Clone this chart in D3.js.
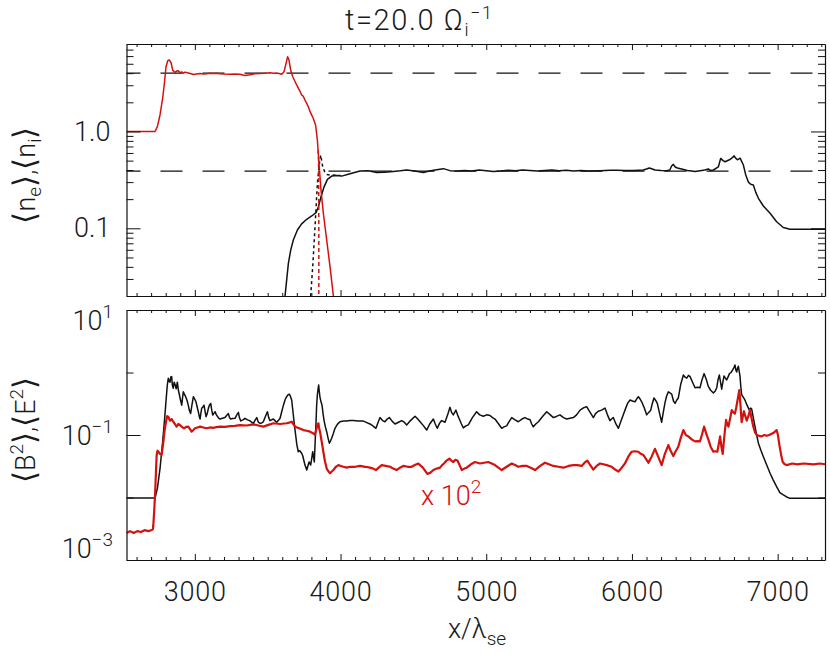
<!DOCTYPE html>
<html>
<head>
<meta charset="utf-8">
<script src="https://cdn.jsdelivr.net/npm/d3@7"></script>
<style>
  body { margin: 0; background: #fff; }
  text { font-family: Roboto, "DejaVu Sans", sans-serif; font-weight: 300; fill: #1a1a1a; }
</style>
</head>
<body>
<script>
// ---- data ----
var xMajor = [3000, 4000, 5000, 6000, 7000];
var refLevels = [4.0, 0.39];   // dashed lines, top panel

// top panel: red solid
var ionDensity = [[2531,1.0],[2600,1.0],[2700,1.0],[2727,1.0],[2743,1.12],[2761,1.48],[2779,2.2],[2791,3.13],[2802,4.66],[2814,5.38],[2825,5.47],[2837,5.12],[2848,4.3],[2864,4.07],[2875,4.2],[2887,4.24],[2898,4.05],[2910,4.12],[2922,4.0],[2933,4.1],[2955,4.02],[2975,3.95],[2990,3.88],[3010,3.92],[3036,3.97],[3060,3.93],[3081,3.95],[3105,3.99],[3127,3.97],[3150,3.98],[3173,3.95],[3200,3.92],[3241,3.9],[3275,3.93],[3310,3.9],[3344,3.79],[3379,3.86],[3410,3.95],[3447,3.97],[3480,3.99],[3516,4.04],[3540,4.0],[3562,4.02],[3585,3.95],[3596,3.9],[3612,4.13],[3626,5.05],[3637,5.92],[3646,5.47],[3658,4.3],[3672,3.67],[3694,3.13],[3711,2.78],[3722,2.6],[3733,2.38],[3745,2.3],[3756,2.11],[3768,1.95],[3779,1.8],[3791,1.6],[3800,1.5],[3813,1.36],[3829,1.16],[3841,0.815],[3852,0.468],[3866,0.248],[3882,0.143],[3905,0.0757],[3928,0.040],[3951,0.02],[3960,0.015]];
// top panel: black solid
var electronDensity = [[3612,0.015],[3619,0.02],[3630,0.029],[3642,0.0435],[3658,0.0596],[3676,0.0757],[3704,0.096],[3733,0.111],[3768,0.124],[3802,0.134],[3832,0.145],[3848,0.167],[3866,0.212],[3887,0.268],[3910,0.32],[3939,0.346],[3974,0.35],[4008,0.346],[4065,0.366],[4134,0.39],[4191,0.393],[4248,0.376],[4300,0.38],[4362,0.385],[4410,0.392],[4454,0.40],[4510,0.39],[4568,0.376],[4610,0.39],[4648,0.40],[4706,0.413],[4751,0.394],[4800,0.39],[4850,0.395],[4900,0.39],[4950,0.40],[5000,0.392],[5050,0.385],[5100,0.39],[5150,0.397],[5200,0.392],[5250,0.40],[5300,0.395],[5350,0.39],[5400,0.395],[5450,0.40],[5500,0.392],[5550,0.398],[5600,0.39],[5650,0.395],[5700,0.39],[5781,0.393],[5850,0.397],[5895,0.397],[5950,0.395],[6010,0.396],[6078,0.40],[6100,0.41],[6119,0.42],[6140,0.41],[6158,0.40],[6200,0.395],[6238,0.393],[6260,0.40],[6272,0.44],[6284,0.457],[6297,0.43],[6312,0.42],[6341,0.41],[6380,0.395],[6410,0.39],[6433,0.385],[6479,0.395],[6500,0.40],[6524,0.41],[6540,0.395],[6559,0.40],[6593,0.43],[6609,0.527],[6625,0.50],[6639,0.487],[6669,0.51],[6685,0.53],[6701,0.56],[6712,0.53],[6724,0.51],[6742,0.53],[6765,0.45],[6780,0.36],[6799,0.30],[6815,0.285],[6833,0.28],[6850,0.235],[6868,0.204],[6902,0.17],[6948,0.143],[6993,0.117],[7039,0.102],[7085,0.098],[7200,0.098],[7325,0.098]];
// top panel: dotted curves
var electronDensityAlt = [[3793,0.015],[3795,0.02],[3809,0.040],[3825,0.104],[3841,0.29],[3855,0.468],[3864,0.57],[3878,0.43],[3892,0.38],[3905,0.36],[3930,0.355],[3951,0.355],[3997,0.352]];
var ionDensityAlt = [[3851,0.015],[3851,0.1],[3850,0.3],[3849,0.5],[3847,0.65]];

// bottom panel: black <B^2>
var magneticEnergy = [[2531,0.0098],[2727,0.0098],[2743,0.014],[2761,0.029],[2779,0.078],[2791,0.163],[2800,0.30],[2811,0.63],[2818,0.81],[2824,0.72],[2830,0.70],[2835,0.85],[2841,0.86],[2846,0.62],[2852,0.56],[2858,0.70],[2864,0.65],[2872,0.55],[2880,0.70],[2887,0.52],[2894,0.44],[2902,0.36],[2910,0.30],[2916,0.40],[2921,0.49],[2928,0.45],[2937,0.41],[2946,0.36],[2955,0.30],[2962,0.25],[2971,0.22],[2980,0.30],[2990,0.41],[2998,0.38],[3008,0.34],[3016,0.28],[3024,0.236],[3030,0.20],[3036,0.18],[3041,0.22],[3047,0.267],[3055,0.28],[3063,0.30],[3070,0.24],[3077,0.196],[3085,0.22],[3093,0.267],[3100,0.30],[3109,0.32],[3116,0.25],[3123,0.209],[3130,0.22],[3139,0.236],[3148,0.21],[3157,0.196],[3165,0.185],[3173,0.18],[3190,0.185],[3207,0.19],[3218,0.205],[3230,0.22],[3238,0.19],[3246,0.18],[3260,0.183],[3276,0.185],[3288,0.21],[3299,0.23],[3306,0.19],[3315,0.168],[3330,0.175],[3344,0.185],[3362,0.175],[3379,0.168],[3390,0.16],[3402,0.154],[3412,0.17],[3425,0.19],[3436,0.16],[3447,0.154],[3458,0.155],[3470,0.163],[3485,0.2],[3498,0.236],[3507,0.19],[3516,0.17],[3527,0.175],[3539,0.18],[3550,0.17],[3562,0.16],[3573,0.17],[3585,0.185],[3597,0.24],[3608,0.30],[3620,0.37],[3630,0.41],[3640,0.44],[3649,0.45],[3657,0.41],[3665,0.36],[3670,0.28],[3676,0.209],[3684,0.14],[3692,0.10],[3700,0.07],[3710,0.054],[3720,0.056],[3733,0.051],[3740,0.047],[3745,0.042],[3756,0.033],[3768,0.0275],[3776,0.032],[3784,0.037],[3790,0.035],[3795,0.033],[3802,0.042],[3809,0.054],[3814,0.045],[3820,0.037],[3826,0.08],[3832,0.163],[3836,0.30],[3841,0.44],[3846,0.55],[3850,0.63],[3854,0.50],[3859,0.40],[3866,0.34],[3873,0.30],[3880,0.22],[3887,0.17],[3896,0.135],[3905,0.113],[3914,0.09],[3923,0.074],[3931,0.08],[3939,0.089],[3950,0.105],[3962,0.128],[3978,0.148],[3996,0.163],[4020,0.167],[4042,0.168],[4065,0.17],[4088,0.17],[4120,0.168],[4157,0.167],[4180,0.158],[4202,0.15],[4222,0.14],[4243,0.128],[4258,0.16],[4271,0.19],[4288,0.17],[4305,0.163],[4320,0.18],[4335,0.19],[4355,0.165],[4374,0.15],[4398,0.16],[4420,0.17],[4437,0.16],[4454,0.145],[4480,0.17],[4511,0.20],[4530,0.18],[4546,0.163],[4570,0.14],[4591,0.12],[4612,0.15],[4637,0.18],[4650,0.15],[4664,0.128],[4680,0.155],[4694,0.17],[4717,0.16],[4735,0.21],[4751,0.277],[4762,0.23],[4774,0.21],[4792,0.25],[4803,0.21],[4815,0.18],[4830,0.15],[4843,0.13],[4860,0.14],[4877,0.145],[4905,0.19],[4934,0.236],[4955,0.21],[4980,0.20],[5003,0.21],[5026,0.205],[5043,0.19],[5060,0.18],[5085,0.15],[5106,0.128],[5122,0.135],[5140,0.14],[5158,0.165],[5175,0.19],[5198,0.175],[5220,0.163],[5245,0.18],[5266,0.19],[5285,0.18],[5301,0.175],[5312,0.15],[5323,0.135],[5340,0.15],[5358,0.163],[5388,0.2],[5415,0.236],[5440,0.21],[5461,0.19],[5485,0.2],[5506,0.21],[5530,0.19],[5552,0.18],[5575,0.185],[5598,0.19],[5620,0.21],[5644,0.25],[5665,0.27],[5689,0.284],[5710,0.236],[5735,0.19],[5750,0.22],[5769,0.24],[5792,0.25],[5815,0.27],[5832,0.21],[5849,0.17],[5860,0.18],[5872,0.19],[5890,0.15],[5907,0.128],[5930,0.18],[5952,0.25],[5970,0.32],[5987,0.363],[6003,0.35],[6021,0.34],[6033,0.38],[6044,0.41],[6055,0.38],[6067,0.34],[6085,0.27],[6101,0.21],[6115,0.23],[6129,0.25],[6140,0.32],[6151,0.39],[6162,0.36],[6174,0.32],[6190,0.22],[6204,0.16],[6215,0.23],[6227,0.33],[6238,0.42],[6250,0.49],[6262,0.47],[6273,0.45],[6285,0.35],[6296,0.32],[6307,0.36],[6318,0.39],[6335,0.65],[6353,0.91],[6365,0.84],[6376,0.81],[6388,0.9],[6399,0.86],[6416,0.7],[6433,0.57],[6450,0.58],[6467,0.57],[6480,0.75],[6495,0.96],[6510,0.78],[6524,0.6],[6540,0.52],[6559,0.47],[6570,0.5],[6582,0.57],[6590,0.75],[6600,0.91],[6608,0.7],[6616,0.54],[6624,0.7],[6632,0.88],[6640,0.82],[6650,0.76],[6660,0.85],[6669,0.96],[6680,1.0],[6691,1.1],[6700,1.2],[6707,1.32],[6713,1.1],[6719,1.02],[6724,1.15],[6730,1.26],[6736,1.05],[6742,0.86],[6747,0.6],[6753,0.44],[6765,0.4],[6776,0.36],[6790,0.3],[6806,0.25],[6815,0.27],[6822,0.26],[6833,0.19],[6845,0.135],[6856,0.1],[6868,0.074],[6885,0.057],[6902,0.045],[6925,0.033],[6948,0.0244],[6970,0.019],[6993,0.0149],[7015,0.012],[7039,0.011],[7062,0.0102],[7085,0.0097],[7200,0.0097],[7325,0.0097]];
// bottom panel: red <E^2> (x 10^2)
var electricEnergy = [[2531,0.0027],[2555,0.0029],[2580,0.0027],[2605,0.0029],[2630,0.0028],[2655,0.003],[2680,0.0029],[2700,0.003],[2712,0.0031],[2715,0.0036],[2721,0.006],[2727,0.011],[2733,0.025],[2738,0.048],[2744,0.056],[2750,0.054],[2760,0.05],[2772,0.048],[2778,0.06],[2784,0.078],[2793,0.12],[2802,0.163],[2810,0.2],[2818,0.196],[2824,0.18],[2830,0.17],[2841,0.18],[2852,0.163],[2863,0.15],[2875,0.136],[2887,0.15],[2898,0.144],[2912,0.135],[2926,0.128],[2940,0.135],[2955,0.136],[2966,0.125],[2978,0.113],[2990,0.12],[3001,0.128],[3018,0.132],[3036,0.136],[3058,0.132],[3081,0.128],[3104,0.132],[3127,0.13],[3150,0.134],[3173,0.136],[3207,0.135],[3241,0.139],[3275,0.14],[3310,0.144],[3356,0.142],[3402,0.148],[3436,0.142],[3470,0.136],[3505,0.145],[3539,0.154],[3585,0.15],[3630,0.154],[3648,0.158],[3665,0.163],[3676,0.15],[3688,0.136],[3716,0.128],[3745,0.12],[3768,0.117],[3791,0.113],[3808,0.108],[3825,0.10],[3830,0.115],[3836,0.128],[3842,0.145],[3848,0.154],[3853,0.13],[3859,0.113],[3870,0.08],[3882,0.054],[3893,0.038],[3905,0.029],[3917,0.026],[3928,0.0244],[3940,0.026],[3951,0.0275],[3968,0.031],[3985,0.033],[4002,0.032],[4019,0.031],[4042,0.03],[4065,0.031],[4100,0.031],[4134,0.032],[4170,0.031],[4202,0.030],[4225,0.029],[4243,0.0275],[4262,0.03],[4282,0.033],[4310,0.032],[4340,0.031],[4362,0.029],[4385,0.0275],[4408,0.03],[4431,0.032],[4460,0.031],[4488,0.031],[4510,0.033],[4534,0.035],[4565,0.03],[4596,0.0238],[4617,0.025],[4637,0.0275],[4660,0.029],[4683,0.030],[4697,0.033],[4710,0.035],[4728,0.039],[4747,0.042],[4760,0.039],[4774,0.037],[4788,0.04],[4802,0.039],[4817,0.033],[4832,0.0275],[4850,0.029],[4866,0.030],[4895,0.034],[4923,0.037],[4940,0.036],[4957,0.035],[4985,0.036],[5014,0.037],[5037,0.035],[5060,0.033],[5083,0.03],[5106,0.0275],[5140,0.031],[5175,0.035],[5198,0.033],[5220,0.031],[5250,0.032],[5278,0.032],[5305,0.03],[5335,0.0275],[5370,0.032],[5403,0.036],[5430,0.034],[5461,0.032],[5495,0.031],[5529,0.030],[5565,0.032],[5598,0.033],[5625,0.033],[5655,0.032],[5675,0.036],[5694,0.039],[5710,0.034],[5735,0.028],[5758,0.032],[5781,0.035],[5804,0.034],[5827,0.033],[5845,0.032],[5861,0.031],[5885,0.028],[5907,0.026],[5930,0.03],[5952,0.035],[5975,0.045],[5998,0.054],[6020,0.055],[6044,0.054],[6061,0.05],[6078,0.048],[6095,0.042],[6113,0.036],[6135,0.045],[6158,0.06],[6180,0.045],[6204,0.033],[6226,0.05],[6250,0.069],[6267,0.055],[6284,0.046],[6300,0.055],[6318,0.065],[6335,0.09],[6353,0.12],[6370,0.1],[6387,0.095],[6410,0.085],[6433,0.079],[6450,0.08],[6467,0.079],[6480,0.1],[6495,0.136],[6510,0.105],[6524,0.085],[6540,0.065],[6559,0.054],[6572,0.055],[6586,0.054],[6595,0.07],[6605,0.095],[6614,0.065],[6623,0.05],[6635,0.1],[6646,0.174],[6654,0.15],[6662,0.136],[6673,0.18],[6685,0.25],[6696,0.23],[6707,0.22],[6715,0.27],[6723,0.34],[6730,0.42],[6737,0.525],[6745,0.3],[6753,0.16],[6761,0.2],[6769,0.24],[6778,0.2],[6788,0.17],[6799,0.2],[6810,0.25],[6822,0.18],[6833,0.136],[6845,0.11],[6856,0.1],[6873,0.097],[6890,0.095],[6908,0.1],[6925,0.097],[6942,0.1],[6959,0.105],[6976,0.11],[6993,0.12],[7002,0.1],[7012,0.069],[7024,0.048],[7035,0.037],[7048,0.034],[7062,0.033],[7100,0.035],[7131,0.034],[7180,0.035],[7245,0.034],[7290,0.035],[7325,0.034]];

var topMajor = [0.1, 1];
var topMinor = [0.02,0.03,0.04,0.05,0.06,0.07,0.08,0.09,0.2,0.3,0.4,0.5,0.6,0.7,0.8,0.9,2,3,4,5,6,7,8];
var botLabelled = [10, 0.1, 0.001];
var botExp = ["1", "\u22121", "\u22123"];
var botMinor = [1, 0.01];

var red = "#d3120e";

// ---- layout ----
var left = 126.5, right = 825;
var pTop = {top: 44, bottom: 296};
var pBot = {top: 310, bottom: 560};

var svg = d3.select("body").append("svg")
    .attr("width", 830).attr("height", 655);

var x = d3.scaleLinear().domain([2531, 7325]).range([left, right]);
var yTop = d3.scaleLog().domain([0.02, 8]).range([pTop.bottom, pTop.top]);
var yBot = d3.scaleLog().domain([0.001, 10]).range([pBot.bottom, pBot.top]);

var xMinor = d3.range(2600, 7325, 100).filter(function (v) { return v % 1000 !== 0; });

function styleAxis(g) {
    g.attr("font-family", null).attr("font-size", null);
    g.selectAll("line").attr("stroke", "#111").attr("stroke-width", 1);
    g.select(".domain").attr("stroke", "#111").attr("stroke-width", 1.2);
}

function frame(p, y, yMaj, yMin, yMajLen, yMinLen, labelX, labelY) {
    // x ticks bottom + top
    svg.append("g").attr("transform", "translate(0," + p.bottom + ")")
        .call(d3.axisBottom(x).tickValues(xMajor).tickSize(-6).tickSizeOuter(0).tickPadding(22)
            .tickFormat(labelX ? d3.format("d") : ""))
        .call(styleAxis)
        .selectAll("text").attr("font-size", 27).attr("letter-spacing", 0.8);
    svg.append("g").attr("transform", "translate(0," + p.bottom + ")")
        .call(d3.axisBottom(x).tickValues(xMinor).tickSize(-3).tickFormat(""))
        .call(styleAxis).select(".domain").remove();
    svg.append("g").attr("transform", "translate(0," + p.top + ")")
        .call(d3.axisTop(x).tickValues(xMajor).tickSize(-6).tickSizeOuter(0).tickFormat(""))
        .call(styleAxis);
    svg.append("g").attr("transform", "translate(0," + p.top + ")")
        .call(d3.axisTop(x).tickValues(xMinor).tickSize(-3).tickFormat(""))
        .call(styleAxis).select(".domain").remove();
    // y ticks left + right
    svg.append("g").attr("transform", "translate(" + left + ",0)")
        .call(d3.axisLeft(y).tickValues(yMaj).tickSize(-yMajLen).tickSizeOuter(0).tickPadding(16)
            .tickFormat(labelY ? d3.format(".1f") : ""))
        .call(styleAxis)
        .selectAll("text").attr("font-size", 27);
    svg.append("g").attr("transform", "translate(" + left + ",0)")
        .call(d3.axisLeft(y).tickValues(yMin).tickSize(-yMinLen).tickFormat(""))
        .call(styleAxis).select(".domain").remove();
    svg.append("g").attr("transform", "translate(" + right + ",0)")
        .call(d3.axisRight(y).tickValues(yMaj).tickSize(-yMajLen).tickSizeOuter(0).tickFormat(""))
        .call(styleAxis);
    svg.append("g").attr("transform", "translate(" + right + ",0)")
        .call(d3.axisRight(y).tickValues(yMin).tickSize(-yMinLen).tickFormat(""))
        .call(styleAxis).select(".domain").remove();
}

function clip(id, p) {
    svg.append("clipPath").attr("id", id).append("rect")
        .attr("x", left).attr("y", p.top)
        .attr("width", right - left).attr("height", p.bottom - p.top);
}
clip("clipTop", pTop);
clip("clipBot", pBot);

function curve(data, y, color, width, dash, clipId) {
    svg.append("path").datum(data)
        .attr("clip-path", "url(#" + clipId + ")")
        .attr("fill", "none")
        .attr("stroke", color)
        .attr("stroke-width", width)
        .attr("stroke-linejoin", "round")
        .attr("stroke-dasharray", dash)
        .attr("d", d3.line().x(function (d) { return x(d[0]); }).y(function (d) { return y(d[1]); }));
}

// ---- top panel ----
svg.append("g").selectAll("line").data(refLevels).join("line")
    .attr("x1", left).attr("x2", right)
    .attr("y1", function (d) { return yTop(d); }).attr("y2", function (d) { return yTop(d); })
    .attr("stroke", "#111").attr("stroke-width", 1.3)
    .attr("stroke-dasharray", "22,20").attr("stroke-dashoffset", 8);

curve(electronDensity, yTop, "#111", 1.5, null, "clipTop");
curve(electronDensityAlt, yTop, "#111", 1.5, "3,3", "clipTop");
curve(ionDensityAlt, yTop, red, 1.5, "4,3", "clipTop");
curve(ionDensity, yTop, red, 1.5, null, "clipTop");

frame(pTop, yTop, topMajor, topMinor, 14, 7, false, true);

// ---- bottom panel ----
curve(magneticEnergy, yBot, "#111", 1.5, null, "clipBot");
curve(electricEnergy, yBot, red, 2.2, null, "clipBot");

frame(pBot, yBot, botLabelled, botMinor, 14, 7, true, false);

// log labels with superscripts (end labels kept inside the frame)
botLabelled.forEach(function (v, i) {
    var cy = Math.max(pBot.top + 10, Math.min(pBot.bottom - 12, yBot(v)));
    var t = svg.append("text").attr("x", 113).attr("y", cy + 10)
        .attr("text-anchor", "end").attr("font-size", 27);
    t.append("tspan").text("10");
    t.append("tspan").attr("font-size", 19).attr("dy", -12).text(botExp[i]);
});

// "x 10^2" marker for the red curve
var m = svg.append("text").attr("x", 421).attr("y", 505).attr("font-size", 27).style("fill", red);
m.append("tspan").text("x 10");
m.append("tspan").attr("font-size", 19).attr("dy", -12).text("2");

// ---- titles ----
var title = svg.append("text").attr("x", 345).attr("y", 30).attr("font-size", 29)
    .attr("letter-spacing", 1.6);
title.append("tspan").text("t=20.0 \u03A9");
title.append("tspan").attr("font-size", 18).attr("dy", 6).text("i");
title.append("tspan").attr("font-size", 18).attr("dy", -17).text("\u22121");

var xt = svg.append("text").attr("x", 477).attr("y", 638).attr("text-anchor", "middle").attr("font-size", 27);
xt.append("tspan").text("x/\u03BB");
xt.append("tspan").attr("font-size", 19).attr("dy", 7).text("se");

function bracketLabel(cy, parts) {
    var t = svg.append("text").attr("transform", "translate(35," + cy + ") rotate(-90)")
        .attr("text-anchor", "middle").attr("font-size", 27);
    parts.forEach(function (p) {
        var s = t.append("tspan").text(p.t);
        if (p.size) s.attr("font-size", p.size);
        if (p.dy) s.attr("dy", p.dy);
    });
}
bracketLabel(175, [{t: "\u27E8", size: 31}, {t: "n"}, {t: "e", size: 19, dy: 6}, {t: "\u27E9", size: 31, dy: -6},
    {t: ","}, {t: "\u27E8", size: 31}, {t: "n"}, {t: "i", size: 19, dy: 6}, {t: "\u27E9", size: 31, dy: -6}]);
bracketLabel(430, [{t: "\u27E8", size: 31}, {t: "B"}, {t: "2", size: 19, dy: -12}, {t: "\u27E9", size: 31, dy: 12},
    {t: ","}, {t: "\u27E8", size: 31}, {t: "E"}, {t: "2", size: 19, dy: -12}, {t: "\u27E9", size: 31, dy: 12}]);
</script>
</body>
</html>
